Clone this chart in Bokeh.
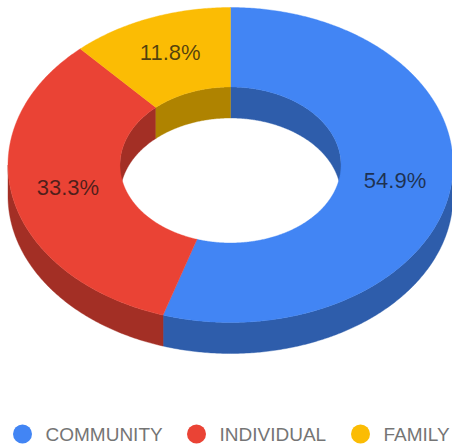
import numpy as np
from bokeh.embed import file_html
from bokeh.models import ColumnDataSource, Range1d
from bokeh.plotting import figure
from bokeh.resources import INLINE
from bokeh.core.properties import value

categories = ["COMMUNITY", "INDIVIDUAL", "FAMILY"]
percents = [54.9, 33.3, 11.8]
colors = ["#4285F4", "#EA4335", "#FBBC04"]
dark_colors = ["#2E5DAB", "#A32F25", "#AF8300"]
legend_x = [22, 196, 360]
legend_text_x = [45, 219, 383]

W, H = 452, 444
CX, CY = 230.0, 164.5
RX, RY = 222.5, 157.5
IX, IY = 110.5, 78.0
DEPTH = 31.0
FONT = "Liberation Sans"


def arc(a0, a1, rx, ry, dy=0.0):
    t = np.radians(np.linspace(a0, a1, max(int(abs(a1 - a0) * 2), 2)))
    return CX + rx * np.sin(t), CY + dy - ry * np.cos(t)


def wall(a0, a1, rx, ry):
    x1, y1 = arc(a0, a1, rx, ry)
    x2, y2 = arc(a1, a0, rx, ry, DEPTH)
    return np.r_[x1, x2].tolist(), np.r_[y1, y2].tolist()


p = figure(width=W, height=H, output_backend="svg", toolbar_location=None,
           x_range=Range1d(0, W), y_range=Range1d(H, 0), min_border=0)
p.axis.visible = False
p.grid.visible = False
p.outline_line_color = None
p.background_fill_color = "white"
p.border_fill_color = "white"

edges = np.r_[0, np.cumsum(percents)] / sum(percents) * 360.0
spans = list(zip(edges[:-1], edges[1:]))

# outer wall (front half) and inner wall (back half)
for (a0, a1), dk in zip(spans, dark_colors):
    lo, hi = max(a0, 90), min(a1, 270)
    if hi > lo:
        xs, ys = wall(lo, hi, RX, RY)
        p.patch(xs, ys, fill_color=dk, line_color=dk, line_width=0.4)
    for lo, hi in ((max(a0, 270), min(a1, 360)), (max(a0, 0), min(a1, 90))):
        if hi > lo:
            xs, ys = wall(lo, hi, IX, IY)
            p.patch(xs, ys, fill_color=dk, line_color=dk, line_width=0.4)

# top face
for (a0, a1), c in zip(spans, colors):
    x1, y1 = arc(a0, a1, RX, RY)
    x2, y2 = arc(a1, a0, IX, IY)
    p.patch(np.r_[x1, x2].tolist(), np.r_[y1, y2].tolist(),
            fill_color=c, line_color=c, line_width=0.4)

# percent labels
mid = np.radians((edges[:-1] + edges[1:]) / 2)
lab = ColumnDataSource(dict(
    x=CX + (RX + IX) / 2 * np.sin(mid),
    y=CY - (RY + IY) / 2 * np.cos(mid) - 2.5,
    t=[f"{v:.1f}%" for v in percents],
))
p.text("x", "y", "t", source=lab, text_font=value(FONT), text_font_size="22px",
       text_align="center", text_baseline="middle", text_color="#111111", text_alpha=0.72)

# legend
ly = [433.5] * len(categories)
p.scatter(legend_x, ly, size=19, marker="circle", fill_color=colors, line_color=None)
p.text(legend_text_x, ly, categories, text_font=value(FONT), text_font_size="19px",
       text_align="left", text_baseline="middle", text_color="#757575")

open("out.html", "w").write(file_html(p, INLINE))
